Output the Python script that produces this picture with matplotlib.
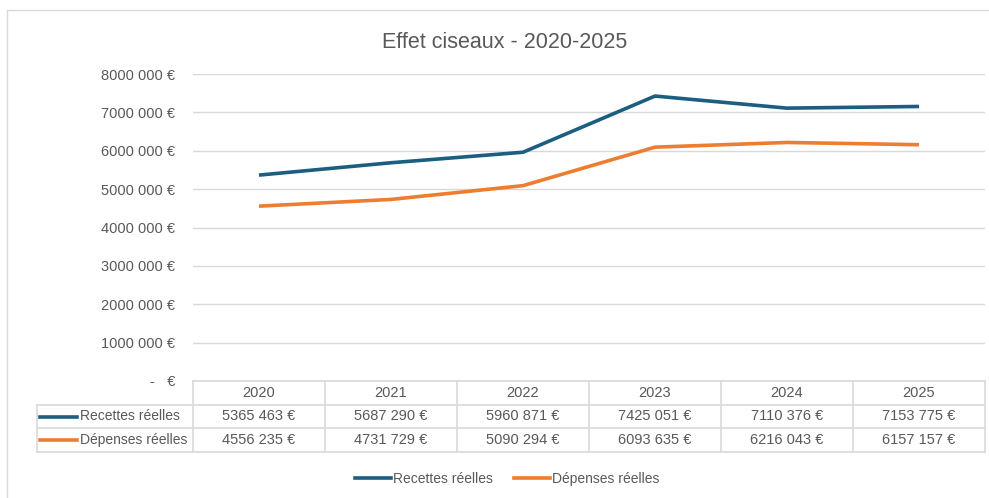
import matplotlib.pyplot as plt
from matplotlib.patches import Rectangle
from matplotlib.lines import Line2D

# donnees
annees = ['2020', '2021', '2022', '2023', '2024', '2025']
recettes = [5365463, 5687290, 5960871, 7425051, 7110376, 7153775]
depenses = [4556235, 4731729, 5090294, 6093635, 6216043, 6157157]
series = ['Recettes réelles', 'Dépenses réelles']
couleurs = ['#1B5E80', '#ED7D31']
yticks = [0, 1000000, 2000000, 3000000, 4000000, 5000000, 6000000, 7000000, 8000000]

plt.rcParams['font.family'] = ['Liberation Sans', 'DejaVu Sans']
gris = '#595959'
W, H = 989, 498


def fmt(v):
    if v == 0:
        return '-   €'
    return str(v // 1000) + ' ' + '%03d' % (v % 1000) + ' €'


def px(x0, y0, x1, y1):
    # pixels (haut-gauche) -> position figure
    return [x0 / W, 1 - y1 / H, (x1 - x0) / W, (y1 - y0) / H]


fig = plt.figure(figsize=(W / 100, H / 100), dpi=100)

# cadre du graphique
fig.patches.append(Rectangle((7 / W, -0.1), 1.1, 1 - 10 / H + 0.1, transform=fig.transFigure,
                             fill=False, edgecolor='#D9D9D9', lw=1))

ax = fig.add_axes(px(193, 74, 985, 381))
x = range(len(annees))
ax.plot(x, recettes, color=couleurs[0], lw=2.6, label=series[0], solid_capstyle='butt')
ax.plot(x, depenses, color=couleurs[1], lw=2.6, label=series[1], solid_capstyle='butt')
ax.set_xlim(-0.5, 5.5)
ax.set_ylim(0, 8000000)
ax.set_yticks(yticks)
ax.set_yticklabels([fmt(v) for v in yticks], color=gris, fontsize=10.5)
ax.tick_params(axis='y', length=0, pad=13)
ax.set_xticks([])
ax.grid(axis='y', color='#D9D9D9', lw=1)
ax.set_axisbelow(True)
for s in ax.spines.values():
    s.set_visible(False)

# table de donnees
cw = 132.0
left = -0.5 - 156 / cw
at = fig.add_axes(px(37, 381, 985, 452))
at.set_xlim(left, 5.5)
at.set_ylim(3, 0)
at.axis('off')
lc = '#D9D9D9'
at.plot([-0.5, 5.5], [0, 0], color=lc, lw=1.2, clip_on=False)
for r in [1, 2, 3]:
    at.plot([left, 5.5], [r, r], color=lc, lw=1.2, clip_on=False)
at.plot([left, left], [1, 3], color=lc, lw=1.2, clip_on=False)
for i in range(len(annees) + 1):
    at.plot([i - 0.5, i - 0.5], [0, 3], color=lc, lw=1.2, clip_on=False)
for i, a in enumerate(annees):
    at.text(i, 0.5, a, ha='center', va='center', color=gris, fontsize=10.5)
for r, vals in enumerate([recettes, depenses]):
    at.plot([left + 3 / cw, left + 40 / cw], [r + 1.5, r + 1.5], color=couleurs[r], lw=2.6)
    at.text(left + 43 / cw, r + 1.5, series[r], ha='left', va='center', color=gris, fontsize=10)
    for i, v in enumerate(vals):
        at.text(i, r + 1.5, fmt(v), ha='center', va='center', color=gris, fontsize=10.5)

fig.text(505 / W, 1 - 42 / H, 'Effet ciseaux - 2020-2025', ha='center', va='center',
         color=gris, fontsize=15.5)

handles = [Line2D([], [], color=c, lw=2.6) for c in couleurs]
leg = fig.legend(handles, series, loc='center', bbox_to_anchor=(507 / W, 1 - 479 / H), ncol=2,
                 frameon=False, fontsize=10, handlelength=2.6, handletextpad=0.15,
                 columnspacing=1.5, labelcolor=gris)

fig.savefig('out.png', dpi=100)
